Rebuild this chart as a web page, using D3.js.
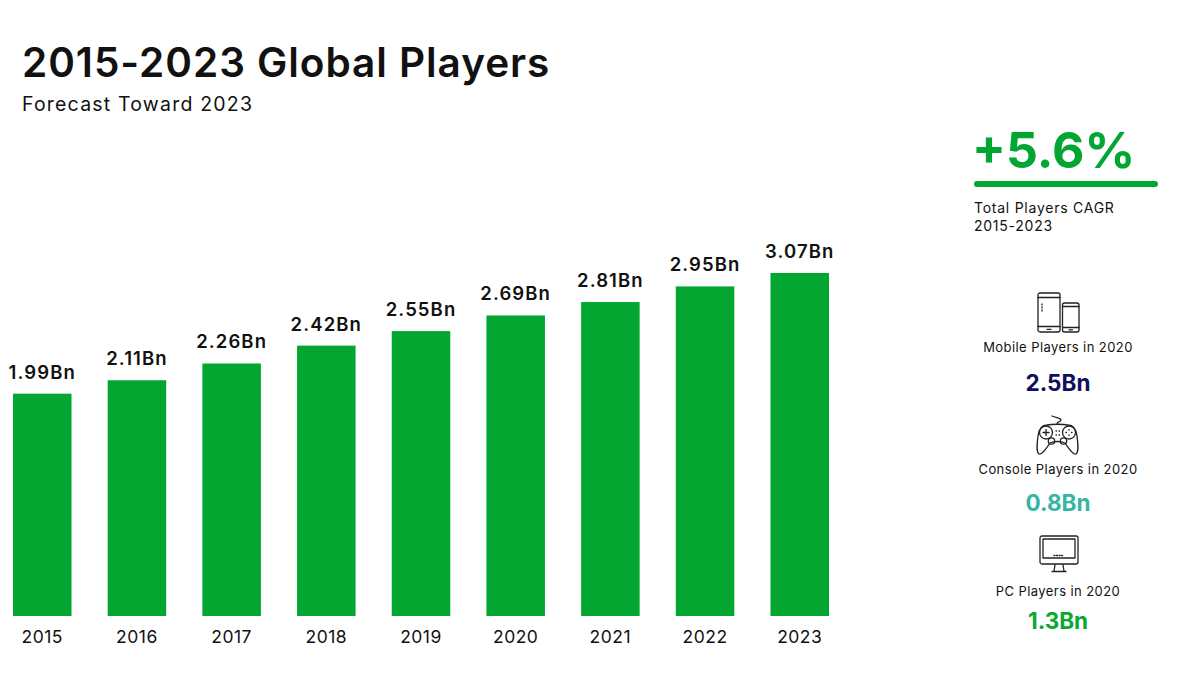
<!DOCTYPE html>
<html>
<head>
    <meta charset="utf-8">
    <script src="https://d3js.org/d3.v7.min.js"></script>
    <style>
        html, body { margin: 0; background: #fff; }
        svg { display: block; }
        text { font-family: Inter, "Open Sans", sans-serif; fill: #111; }
    </style>
</head>
<body>
    <svg id="chart" width="1200" height="693"></svg>

    <script>
        // Data
        const years = ["2015", "2016", "2017", "2018", "2019", "2020", "2021", "2022", "2023"];
        const players = [1.99, 2.11, 2.26, 2.42, 2.55, 2.69, 2.81, 2.95, 3.07];
        const platformNames = ["Mobile Players in 2020", "Console Players in 2020", "PC Players in 2020"];
        const platformValues = [2.5, 0.8, 1.3];
        const platformColors = ["#10105a", "#35b5a4", "#0aa833"];

        const green = "#03a631";
        const svg = d3.select("#chart");

        // Scales
        const x = d3.scaleBand()
            .domain(years)
            .range([13, 829])
            .paddingInner(0.382)
            .paddingOuter(0);

        const y = d3.scaleLinear()
            .domain([0, 3.07])
            .range([616, 273]);

        // Title
        svg.append("text")
            .attr("x", 22).attr("y", 77)
            .attr("font-size", 40.5).attr("font-weight", 600)
            .attr("letter-spacing", 0.95)
            .text("2015-2023 Global Players");

        svg.append("text")
            .attr("x", 22).attr("y", 111)
            .attr("font-size", 19.5).attr("font-weight", 400)
            .attr("letter-spacing", 1.2)
            .text("Forecast Toward 2023");

        // Bars
        svg.append("g")
            .selectAll("rect")
            .data(players)
            .join("rect")
            .attr("x", (d, i) => x(years[i]))
            .attr("y", d => y(d))
            .attr("width", x.bandwidth())
            .attr("height", d => y(0) - y(d))
            .attr("fill", green);

        // Value labels
        svg.append("g")
            .selectAll("text")
            .data(players)
            .join("text")
            .attr("x", (d, i) => x(years[i]) + x.bandwidth() / 2)
            .attr("y", d => y(d) - 15)
            .attr("text-anchor", "middle")
            .attr("font-size", 18.5)
            .attr("font-weight", 600)
            .attr("letter-spacing", 1.1)
            .text(d => d.toFixed(2) + "Bn");

        // Year axis
        const axis = svg.append("g")
            .attr("transform", "translate(0,616)")
            .call(d3.axisBottom(x).tickSize(0).tickPadding(15));
        axis.select(".domain").remove();
        axis.selectAll("text")
            .attr("font-size", 17.5)
            .attr("letter-spacing", 0.5)
            .style("font-family", "Inter, sans-serif")
            .style("fill", "#111");

        // CAGR block
        svg.append("text")
            .attr("x", 972).attr("y", 168)
            .attr("font-size", 50).attr("font-weight", 700)
            .style("fill", green)
            .text("+5.6%");

        svg.append("line")
            .attr("x1", 977).attr("x2", 1155)
            .attr("y1", 184).attr("y2", 184)
            .attr("stroke", green)
            .attr("stroke-width", 6)
            .attr("stroke-linecap", "round");

        svg.append("text")
            .attr("x", 974).attr("y", 213)
            .attr("font-size", 14)
            .attr("letter-spacing", 0.75)
            .text("Total Players CAGR");

        svg.append("text")
            .attr("x", 974).attr("y", 231)
            .attr("font-size", 14)
            .attr("letter-spacing", 0.75)
            .text("2015-2023");

        // Platform captions and numbers
        const captionY = [352, 474, 596];
        const numberY = [391, 511, 629];

        svg.append("g")
            .selectAll("text")
            .data(platformNames)
            .join("text")
            .attr("x", 1058)
            .attr("y", (d, i) => captionY[i])
            .attr("text-anchor", "middle")
            .attr("font-size", 13)
            .attr("letter-spacing", 0.42)
            .text(d => d);

        svg.append("g")
            .selectAll("text")
            .data(platformValues)
            .join("text")
            .attr("x", 1058)
            .attr("y", (d, i) => numberY[i])
            .attr("text-anchor", "middle")
            .attr("font-size", 22.5)
            .attr("font-weight", 700)
            .style("fill", (d, i) => platformColors[i])
            .text(d => d.toFixed(1) + "Bn");

        // Icons
        const icon = (tx, ty) => svg.append("g")
            .attr("transform", `translate(${tx},${ty})`)
            .attr("fill", "none")
            .attr("stroke", "#222")
            .attr("stroke-width", 1.3)
            .attr("stroke-linecap", "round")
            .attr("stroke-linejoin", "round");

        // phones
        const phones = icon(1038, 293);
        phones.append("rect").attr("x", 0).attr("y", 0).attr("width", 22).attr("height", 39).attr("rx", 2);
        phones.append("path").attr("d", "M0 4.5H22M0 33.5H22M9 36.3H13");
        phones.append("path").attr("d", "M4 11v1M4 14v1M4 17v1");
        phones.append("rect").attr("x", 24.5).attr("y", 10).attr("width", 16.5).attr("height", 29).attr("rx", 2);
        phones.append("path").attr("d", "M24.5 13.5H41M24.5 34.5H41M31 36.8H34.5");

        // gamepad
        const pad = icon(1036, 416);
        pad.append("path").attr("d", "M11 9C5 9 3 13 2 20C1 28 0 36 3 38C6 39 10 33 14 27C18 25 25 25 29 27C33 33 37 39 40 38C43 36 42 28 41 20C40 13 38 9 32 9C27 8 16 8 11 9Z");
        pad.append("path").attr("d", "M21 8C21 5 25 6 25 4C25 2 20 2 16 0");
        pad.append("circle").attr("cx", 10).attr("cy", 16.5).attr("r", 6.5);
        pad.append("circle").attr("cx", 33).attr("cy", 16.5).attr("r", 6.5);
        pad.append("circle").attr("cx", 15.5).attr("cy", 25).attr("r", 3.2);
        pad.append("circle").attr("cx", 27.5).attr("cy", 25).attr("r", 3.2);
        pad.append("path").attr("d", "M7 16.5H13M10 13.5V19.5");
        pad.append("path").attr("d", "M33 13.5v.5M33 19v.5M30 16.5h.5M35.5 16.5h.5");
        pad.append("path").attr("d", "M20 15h.5M23 15h.5M20 19h.5M23 19h.5");

        // monitor
        const monitor = icon(1040, 536);
        monitor.append("rect").attr("x", 0).attr("y", 0).attr("width", 38).attr("height", 28).attr("rx", 2);
        monitor.append("rect").attr("x", 3).attr("y", 3).attr("width", 32).attr("height", 19);
        monitor.append("path").attr("d", "M15 29L14 35M23 29L24 35M12 35.5H26");
        monitor.append("path").attr("d", "M14 19.5H24").attr("stroke-dasharray", "1 1.5");
    </script>
</body>
</html>
